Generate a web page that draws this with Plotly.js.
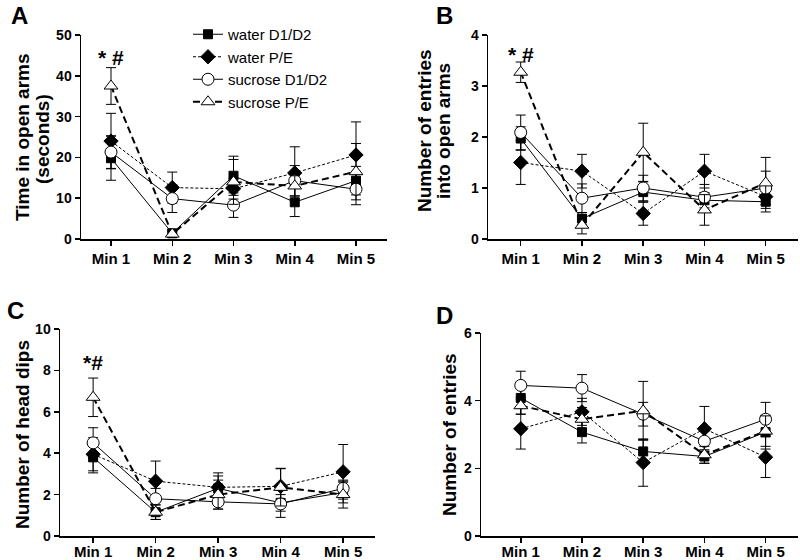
<!DOCTYPE html>
<html>
<head>
<meta charset="utf-8">
<script src="https://cdn.plot.ly/plotly-3.0.1.min.js"></script>
<style>html,body{margin:0;padding:0;background:#fff;}#chart{width:800px;height:560px;}</style>
</head>
<body>
<div id="chart"></div>
<script>
// ---------- data ----------
const categories = ["Min 1", "Min 2", "Min 3", "Min 4", "Min 5"];
const seriesNames = ["water D1/D2", "water P/E", "sucrose D1/D2", "sucrose P/E"];

// Panel A: time in open arms (seconds)
const A_waterD = [19.8, 1.4, 15.5, 9.0, 14.3];
const A_waterD_err = [5.4, 0.8, 4.8, 3.5, 3.5];
const A_waterP = [24.0, 12.6, 12.3, 16.2, 20.6];
const A_waterP_err = [6.8, 3.8, 2.5, 6.4, 8.1];
const A_sucD = [21.3, 9.9, 8.3, 14.3, 12.2];
const A_sucD_err = [4.0, 3.4, 3.0, 3.7, 3.8];
const A_sucP = [37.5, 1.2, 14.0, 13.0, 16.5];
const A_sucP_err = [4.5, 0.7, 5.5, 2.5, 6.9];

// Panel B: number of entries into open arms
const B_waterD = [1.97, 0.40, 0.92, 0.76, 0.73];
const B_waterD_err = [0.23, 0.12, 0.20, 0.15, 0.20];
const B_waterP = [1.50, 1.33, 0.50, 1.33, 0.83];
const B_waterP_err = [0.43, 0.33, 0.23, 0.33, 0.15];
const B_sucD = [2.09, 0.80, 1.00, 0.82, 1.00];
const B_sucD_err = [0.34, 0.28, 0.25, 0.25, 0.33];
const B_sucP = [3.27, 0.27, 1.70, 0.57, 1.10];
const B_sucP_err = [0.20, 0.17, 0.57, 0.30, 0.50];

// Panel C: number of head dips
const C_waterD = [3.80, 1.15, 2.30, 1.60, 2.10];
const C_waterD_err = [0.75, 0.35, 0.60, 0.40, 0.50];
const C_waterP = [3.95, 2.65, 2.35, 2.40, 3.10];
const C_waterP_err = [0.80, 0.97, 0.70, 0.87, 1.32];
const C_sucD = [4.50, 1.80, 1.65, 1.55, 2.30];
const C_sucD_err = [0.73, 0.50, 0.35, 0.65, 0.40];
const C_sucP = [6.70, 1.15, 2.00, 2.35, 2.00];
const C_sucP_err = [0.93, 0.35, 0.70, 0.90, 0.65];

// Panel D: number of entries
const D_waterD = [4.08, 3.07, 2.50, 2.35, 3.07];
const D_waterD_err = [0.48, 0.32, 0.35, 0.20, 0.50];
const D_waterP = [3.17, 3.67, 2.17, 3.17, 2.33];
const D_waterP_err = [0.60, 0.40, 0.70, 0.66, 0.60];
const D_sucD = [4.45, 4.37, 3.60, 2.80, 3.45];
const D_sucD_err = [0.42, 0.40, 0.35, 0.30, 0.50];
const D_sucP = [3.85, 3.45, 3.70, 2.40, 3.10];
const D_sucP_err = [0.25, 0.35, 0.87, 0.25, 0.45];

const yTitles = {
  A: ["Time in open arms", "(seconds)"],
  B: ["Number of entries", "into open arms"],
  C: ["Number of head dips"],
  D: ["Number of entries"]
};
const sigLabel = {A: "* #", B: "* #", C: "*#"};

// ---------- styles ----------
const FONT = "Liberation Sans, Arial, Helvetica, sans-serif";
const styles = [
  {line: {color: "#000", width: 1, dash: "solid"}, marker: {symbol: "square", size: 9, color: "#000", line: {color: "#000", width: 1}}},
  {line: {color: "#000", width: 1, dash: "3px,2px"}, marker: {symbol: "diamond", size: 11, color: "#000", line: {color: "#000", width: 1}}},
  {line: {color: "#000", width: 1, dash: "solid"}, marker: {symbol: "circle", size: 12, color: "#fff", line: {color: "#000", width: 1}}},
  {line: {color: "#000", width: 2, dash: "7px,4px"}, marker: {symbol: "triangle-up", size: 12, color: "#fff", line: {color: "#000", width: 1}}}
];

function panelTraces(vals, errs, xa, ya, legend) {
  return vals.map((v, i) => ({
    type: "scatter", mode: "lines+markers",
    x: categories, y: v,
    xaxis: xa, yaxis: ya,
    name: seriesNames[i], showlegend: legend,
    line: styles[i].line, marker: styles[i].marker,
    error_y: {type: "data", array: errs[i], visible: true, color: "#000", thickness: 1, width: 5},
    cliponaxis: false
  }));
}

const traces = [].concat(
  panelTraces([A_waterD, A_waterP, A_sucD, A_sucP], [A_waterD_err, A_waterP_err, A_sucD_err, A_sucP_err], "x", "y", true),
  panelTraces([B_waterD, B_waterP, B_sucD, B_sucP], [B_waterD_err, B_waterP_err, B_sucD_err, B_sucP_err], "x2", "y2", false),
  panelTraces([C_waterD, C_waterP, C_sucD, C_sucP], [C_waterD_err, C_waterP_err, C_sucD_err, C_sucP_err], "x3", "y3", false),
  panelTraces([D_waterD, D_waterP, D_sucD, D_sucP], [D_waterD_err, D_waterP_err, D_sucD_err, D_sucP_err], "x4", "y4", false)
);

const W = 800, H = 560;
const px = v => v / W, py = v => 1 - v / H;

function xAxis(left, right, r0, r1, anchor, standoff) {
  return {
    domain: [px(left), px(right)], anchor: anchor,
    type: "category", categoryarray: categories, range: [r0, r1],
    showline: true, linecolor: "#000", linewidth: 1.5,
    ticks: "outside", ticklen: 5, tickwidth: 1.5, tickcolor: "#000",
    ticklabelstandoff: standoff || 0,
    showgrid: false, zeroline: false, fixedrange: true,
    tickfont: {family: FONT, size: 15, color: "#000", weight: "bold"}
  };
}
function yAxis(top, bottom, r1, dtick, anchor) {
  return {
    domain: [py(bottom), py(top)], anchor: anchor,
    range: [0, r1], dtick: dtick,
    showline: true, linecolor: "#000", linewidth: 1.5,
    ticks: "outside", ticklen: 5, tickwidth: 1.5, tickcolor: "#000",
    showgrid: false, zeroline: false, fixedrange: true,
    tickfont: {family: FONT, size: 14, color: "#000", weight: "bold"}
  };
}

const annotations = [];
function txt(text, x, y, size, bold, angle) {
  annotations.push({
    text: text, xref: "paper", yref: "paper", x: px(x), y: py(y),
    xanchor: "center", yanchor: "middle", showarrow: false, textangle: angle || 0,
    font: {family: FONT, size: size, color: "#000", weight: bold ? "bold" : "normal"}
  });
}
// panel letters
txt("A", 19, 15, 24, true);
txt("B", 444, 15, 24, true);
txt("C", 15, 310, 24, true);
txt("D", 444, 315, 24, true);
// y-axis titles
txt(yTitles.A[0], 22, 137, 19, true, -90);
txt(yTitles.A[1], 42, 139, 19, true, -90);
txt(yTitles.B[0], 424, 131, 19, true, -90);
txt(yTitles.B[1], 443, 131, 19, true, -90);
txt(yTitles.C[0], 22, 435, 19, true, -90);
txt(yTitles.D[0], 449, 435, 19, true, -90);
// significance marks above Min 1
[["A", "x", "y", 44.5], ["B", "x2", "y2", 3.62], ["C", "x3", "y3", 8.4]].forEach(s => {
  annotations.push({
    text: sigLabel[s[0]], xref: s[1], yref: s[2], x: categories[0], y: s[3],
    xanchor: "center", yanchor: "middle", showarrow: false,
    font: {family: FONT, size: 21, color: "#000", weight: "bold"}
  });
});

const layout = {
  width: W, height: H,
  margin: {l: 0, r: 0, t: 0, b: 0},
  paper_bgcolor: "#fff", plot_bgcolor: "rgba(0,0,0,0)",
  showlegend: true,
  legend: {
    x: px(188), y: py(18), xanchor: "left", yanchor: "top",
    bgcolor: "rgba(0,0,0,0)", borderwidth: 0, tracegroupgap: 0,
    itemwidth: 30,
    font: {family: FONT, size: 15, color: "#000"}
  },
  xaxis: xAxis(81, 387, -0.49, 4.506, "y"),
  yaxis: yAxis(35, 239, 50, 10, "x"),
  xaxis2: xAxis(488, 798, -0.534, 4.527, "y2"),
  yaxis2: yAxis(35, 239, 4, 1, "x2"),
  xaxis3: xAxis(60, 375, -0.53, 4.51, "y3", -4),
  yaxis3: yAxis(329, 536, 10, 2, "x3"),
  xaxis4: xAxis(481, 798, -0.65, 4.53, "y4", -4),
  yaxis4: yAxis(333, 536, 6, 2, "x4"),
  annotations: annotations
};

Plotly.newPlot("chart", traces, layout, {displayModeBar: false, staticPlot: true});
</script>
</body>
</html>
